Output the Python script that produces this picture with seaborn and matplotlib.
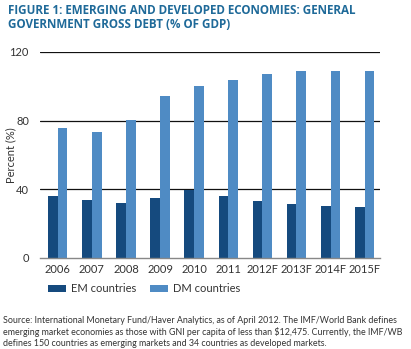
import matplotlib
matplotlib.use("Agg")
import matplotlib.pyplot as plt
import seaborn as sns
import pandas as pd

years = ["2006", "2007", "2008", "2009", "2010", "2011", "2012F", "2013F", "2014F", "2015F"]
em_values = [35.9, 34.0, 32.3, 35.0, 39.4, 35.9, 33.2, 31.5, 30.5, 29.6]
dm_values = [75.9, 73.4, 80.6, 94.1, 100.3, 103.8, 107.2, 109.2, 109.2, 109.2]
series_names = ["EM countries", "DM countries"]
yticks = [0, 40, 80, 120]

df = pd.DataFrame({
    "year": years * 2,
    "value": em_values + dm_values,
    "series": [series_names[0]] * len(years) + [series_names[1]] * len(years),
})

sns.set_theme(style="white")
plt.rcParams['font.family'] = ['Lato', 'DejaVu Sans']

fig = plt.figure(figsize=(4.11, 3.49), dpi=100)
ax = fig.add_axes([40/411, 1 - 258/349, 340/411, (258 - 52)/349])

palette = {"EM countries": "#154a7e", "DM countries": "#4f8bc4"}
sns.barplot(data=df, x="year", y="value", hue="series", order=years,
            hue_order=series_names, palette=palette, width=0.57,
            saturation=1, ax=ax, legend=True, linewidth=0, edgecolor="none")

ax.set_ylim(0, 120)
ax.set_xlim(-0.52, 9.45)
ax.set_yticks(yticks)
ax.set_yticklabels([str(t) for t in yticks], fontsize=8, color="#333333")
ax.tick_params(axis='x', labelsize=8, colors="#333333", length=0, pad=4)
ax.tick_params(axis='y', length=0, pad=8)
for t in yticks[1:]:
    ax.axhline(t, color="#111111", lw=0.9, zorder=0)
for s in ["top", "right", "left"]:
    ax.spines[s].set_visible(False)
ax.spines["bottom"].set_color("#888888")
ax.spines["bottom"].set_linewidth(1.0)
ax.set_xlabel("")
ax.set_ylabel("")
fig.text(11/411, 1 - 155/349, "Percent (%)", rotation=90, ha="center", va="center",
         fontsize=8, color="#333333")

leg = ax.legend(loc="upper left", bbox_to_anchor=(0.01, -0.1), ncol=2,
                frameon=False, fontsize=8, handlelength=1.6, handleheight=0.6,
                columnspacing=1.2, handletextpad=0.5, borderaxespad=0)
for txt in leg.get_texts():
    txt.set_color("#333333")

fig.text(8/411, 1 - 4/349, "FIGURE 1: EMERGING AND DEVELOPED ECONOMIES: GENERAL\nGOVERNMENT GROSS DEBT (% OF GDP)",
         ha="left", va="top", fontsize=8.4, fontweight="bold", color="#1f6a99",
         family=['Open Sans', 'DejaVu Sans'], linespacing=1.1)

src = ("Source: International Monetary Fund/Haver Analytics, as of April 2012. The IMF/World Bank defines\n"
       "emerging market economies as those with GNI per capita of less than $12,475. Currently, the IMF/WB\n"
       "defines 150 countries as emerging markets and 34 countries as developed markets.")
fig.text(3/411, 1 - 316/349, src, ha="left", va="top", fontsize=6.4, color="#333333",
         family=['Lato', 'DejaVu Sans'], linespacing=1.3)

fig.savefig("out.png", dpi=100)
